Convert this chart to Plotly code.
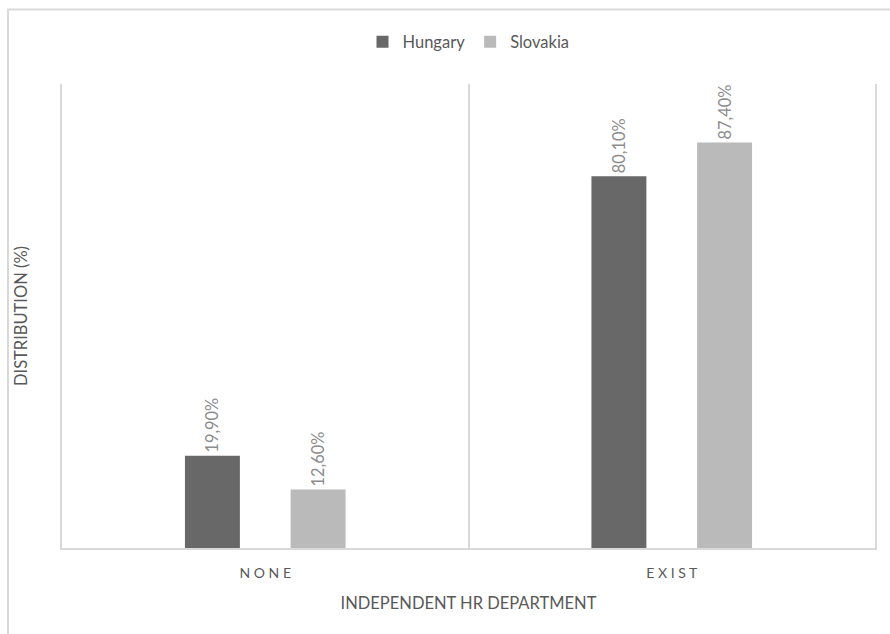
import plotly.graph_objects as go

categories = ["N O N E", "E X I S T"]
hungary = [19.9, 80.1]
slovakia = [12.6, 87.4]
series_names = ["Hungary", "Slovakia"]

W, H = 890, 634
ml, mr, mt, mb = 62, 15, 84, 86
pw, ph = W - ml - mr, H - mt - mb

def px_x(p):
    return (p - ml) / pw

def px_y(p):
    return (H - mb - p) / ph

FONT = "Lato, 'Open Sans', sans-serif"
label_font = dict(family=FONT, size=16.5, color="#8c8c8c")

fig = go.Figure()
for name, vals, col in [(series_names[0], hungary, "#686868"), (series_names[1], slovakia, "#bababa")]:
    fig.add_trace(go.Bar(
        name=name, x=categories, y=vals,
        marker=dict(color=col, line=dict(width=0)),
        texttemplate="%{y:.2f}%", textposition="outside", textangle=-90,
        textfont=label_font, cliponaxis=False,
    ))

fig.update_layout(
    width=W, height=H,
    margin=dict(l=ml, r=mr, t=mt, b=mb),
    paper_bgcolor="white", plot_bgcolor="white",
    separators=",.",
    barmode="group", bargap=0.48, bargroupgap=0.48,
    font=dict(family=FONT, color="#595959"),
    legend=dict(orientation="h", x=0.5, xanchor="center", y=px_y(42), yanchor="middle",
                font=dict(size=16.5, color="#595959"), itemwidth=30, traceorder="normal"),
    xaxis=dict(
        type="category", tickson="boundaries", showgrid=True, gridcolor="#d9d9d9", gridwidth=2,
        ticks="", showline=True, linecolor="#d9d9d9", linewidth=2,
        tickfont=dict(size=14, color="#595959"), ticklabelstandoff=11,
        title=dict(text="INDEPENDENT HR DEPARTMENT", font=dict(size=16.5, color="#595959"), standoff=18),
    ),
    yaxis=dict(
        range=[0, 100], showgrid=False, showticklabels=False, ticks="", zeroline=False,
        showline=True, mirror=True, linecolor="#d9d9d9", linewidth=2,
        title=dict(text="DISTRIBUTION (%)", font=dict(size=16.5, color="#595959"), standoff=28),
    ),
    shapes=[dict(type="rect", xref="paper", yref="paper",
                 x0=px_x(8), x1=px_x(905), y0=px_y(650), y1=px_y(9.5),
                 line=dict(color="#d9d9d9", width=2), fillcolor="rgba(0,0,0,0)", layer="below")],
)

fig.write_html("out.html")
